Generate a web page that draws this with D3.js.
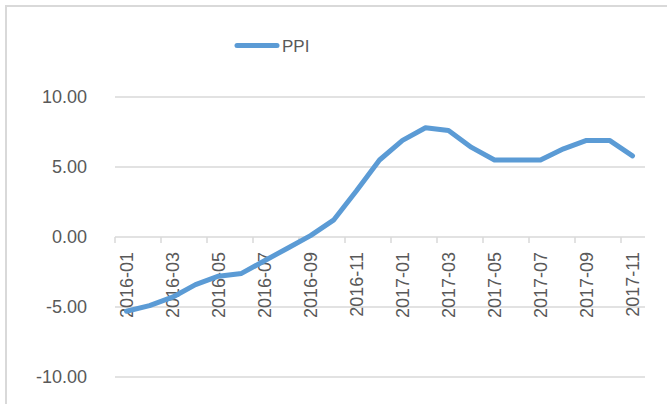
<!DOCTYPE html>
<html>
<head>
<meta charset="utf-8">
<style>
    body { margin: 0; background: #fff; }
    text { font-family: "Liberation Sans", Arial, sans-serif; fill: #595959; }
</style>
</head>
<body>
<svg width="667" height="404"></svg>
<script src="https://cdn.jsdelivr.net/npm/d3@7"></script>
<script>
    // PPI, year on year, monthly
    let months = ["2016-01","2016-02","2016-03","2016-04","2016-05","2016-06","2016-07","2016-08","2016-09","2016-10","2016-11","2016-12",
                  "2017-01","2017-02","2017-03","2017-04","2017-05","2017-06","2017-07","2017-08","2017-09","2017-10","2017-11"]
    let ppi = [-5.3,-4.9,-4.3,-3.4,-2.8,-2.6,-1.7,-0.8,0.1,1.2,3.3,5.5,
               6.9,7.8,7.6,6.4,5.5,5.5,5.5,6.3,6.9,6.9,5.8]
    let yTicks = [-10, -5, 0, 5, 10]
    let seriesName = "PPI"

    let svg = d3.select("svg")
    let plotLeft = 115, plotRight = 644, plotTop = 97, plotBottom = 377

    // chart area border
    svg.append("rect")
        .attr("x", 6).attr("y", 6)
        .attr("width", 680).attr("height", 420)
        .attr("fill", "none")
        .attr("stroke", "#d9d9d9")
        .attr("stroke-width", 2)

    let x = d3.scaleBand().domain(months).range([plotLeft, plotRight])
    let y = d3.scaleLinear().domain([-10, 10]).range([plotBottom, plotTop])

    // gridlines + y labels
    let yAxis = svg.append("g")
    yAxis.selectAll("line")
        .data(yTicks)
        .enter()
        .append("line")
        .attr("x1", plotLeft).attr("x2", plotRight + 1)
        .attr("y1", d => y(d)).attr("y2", d => y(d))
        .attr("stroke", "#d9d9d9")
        .attr("stroke-width", 1.5)
    yAxis.selectAll("text")
        .data(yTicks)
        .enter()
        .append("text")
        .attr("x", 87)
        .attr("y", d => y(d))
        .attr("dy", "0.36em")
        .attr("text-anchor", "end")
        .style("font-size", "18px")
        .text(d => d.toFixed(2))

    // category axis crossing at zero
    let y0 = y(0)
    let tickIdx = d3.range(0, months.length, 2)
    let xAxis = svg.append("g")
    xAxis.selectAll("line.tick")
        .data(tickIdx)
        .enter()
        .append("line")
        .attr("class", "tick")
        .attr("x1", d => x(months[d])).attr("x2", d => x(months[d]))
        .attr("y1", y0).attr("y2", y0 + 6)
        .attr("stroke", "#d9d9d9")
        .attr("stroke-width", 1.5)
    xAxis.selectAll("text")
        .data(tickIdx)
        .enter()
        .append("text")
        .attr("transform", d => "translate(" + (x(months[d]) + x.bandwidth() / 2) + "," + (y0 + 15) + ") rotate(-90)")
        .attr("dy", "0.36em")
        .attr("text-anchor", "end")
        .style("font-size", "18px")
        .text(d => months[d])

    // series line
    let line = d3.line()
        .x((d, i) => x(months[i]) + x.bandwidth() / 2)
        .y(d => y(d))
    svg.append("path")
        .datum(ppi)
        .attr("d", line)
        .attr("fill", "none")
        .attr("stroke", "#5b9bd5")
        .attr("stroke-width", 5)
        .attr("stroke-linejoin", "round")
        .attr("stroke-linecap", "round")

    // legend
    let legend = svg.append("g")
    legend.append("line")
        .attr("x1", 237).attr("x2", 277)
        .attr("y1", 45.5).attr("y2", 45.5)
        .attr("stroke", "#5b9bd5")
        .attr("stroke-width", 5)
        .attr("stroke-linecap", "round")
    legend.append("text")
        .attr("x", 282).attr("y", 45.5)
        .attr("dy", "0.36em")
        .style("font-size", "17px")
        .text(seriesName)
</script>
</body>
</html>
